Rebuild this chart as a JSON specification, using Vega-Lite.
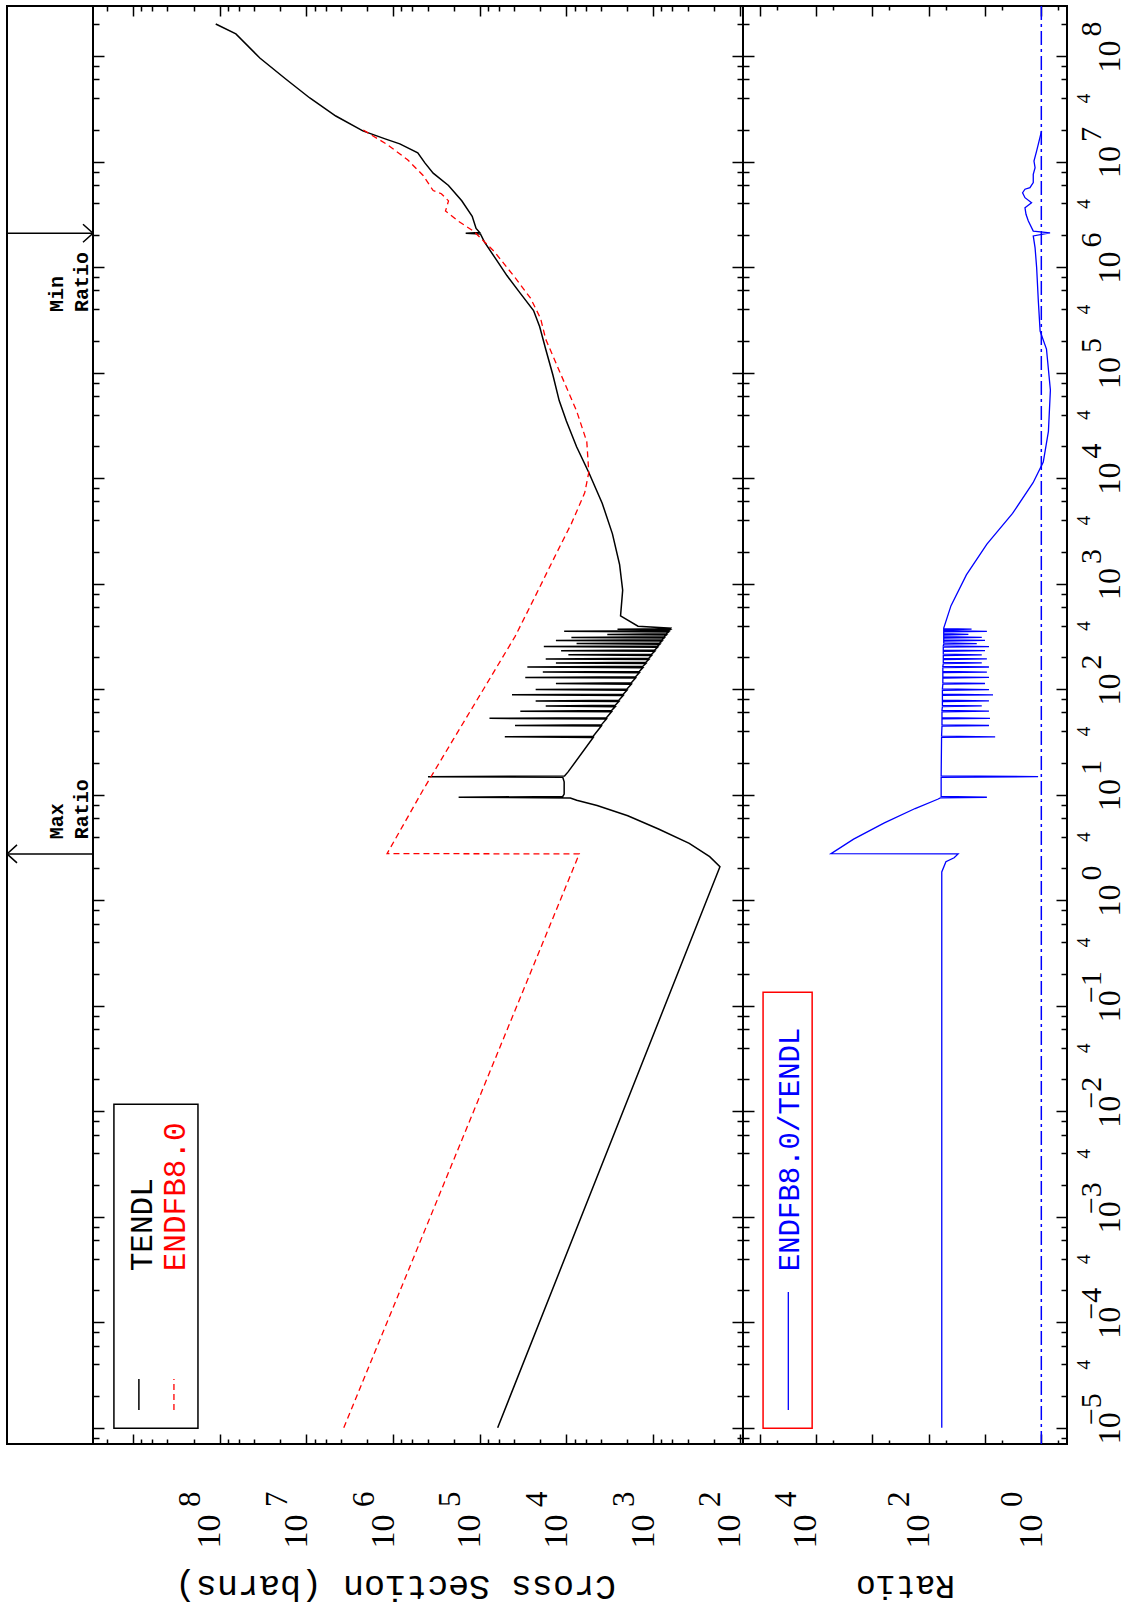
{
"$schema": "https://vega.github.io/schema/vega-lite/v6.json",
"padding": {"left": 3, "top": 4, "right": 0, "bottom": 0},
"spacing": 0,
"bounds": "flush",
"config": {"view": {"stroke": "#000", "strokeWidth": 2}, "axis": {"grid": false, "labelColor": "#000", "titleColor": "#000"}},
"datasets": {
"tendl": [
{"E":1e-5,"xs":62000},{"E":2.07,"xs":169},{"E":2.58,"xs":222},{"E":3.45,"xs":382},{"E":4.72,"xs":865},{"E":6.31,"xs":1955},{"E":7.89,"xs":4420},{"E":8.83,"xs":7600},{"E":9.3,"xs":9000},{"E":9.44,"xs":175000},{"E":9.6,"xs":11000},{"E":10.1,"xs":10600},{"E":13.2,"xs":10600},{"E":14.6,"xs":11000},{"E":14.8,"xs":395000},{"E":15.0,"xs":10500},{"E":16.5,"xs":9500},
{"E":34.8,"xs":4900},{"E":35.3,"xs":51300},{"E":35.8,"xs":4900},
{"E":44.6,"xs":3950},{"E":45.2,"xs":39100},{"E":45.8,"xs":3950},
{"E":52.1,"xs":3450},{"E":52.8,"xs":77100},{"E":53.5,"xs":3450},
{"E":60.9,"xs":3010},{"E":61.8,"xs":34000},{"E":62.7,"xs":3010},
{"E":68.2,"xs":2730},{"E":69.2,"xs":17300},{"E":70.2,"xs":2730},
{"E":76.2,"xs":2480},{"E":77.3,"xs":22600},{"E":78.4,"xs":2480},
{"E":87.1,"xs":2210},{"E":88.3,"xs":42400},{"E":89.5,"xs":2210},
{"E":97.5,"xs":2000},{"E":98.9,"xs":22600},{"E":100.3,"xs":2000},
{"E":111.4,"xs":1780},{"E":113,"xs":13200},{"E":114.6,"xs":1780},
{"E":127.2,"xs":1590},{"E":129,"xs":29800},{"E":130.8,"xs":1590},
{"E":143,"xs":1440},{"E":145,"xs":18700},{"E":147,"xs":1440},
{"E":159.7,"xs":1310},{"E":162,"xs":28200},{"E":164.3,"xs":1310},
{"E":174.5,"xs":1210},{"E":177,"xs":13200},{"E":179.5,"xs":1210},
{"E":190.3,"xs":1120},{"E":193,"xs":17300},{"E":195.7,"xs":1120},
{"E":208,"xs":1040},{"E":211,"xs":9480},{"E":214,"xs":1040},
{"E":227.8,"xs":957},{"E":231,"xs":11500},{"E":234.2,"xs":957},
{"E":249.5,"xs":885},{"E":253,"xs":18200},{"E":256.5,"xs":885},
{"E":266.2,"xs":836},{"E":270,"xs":7620},{"E":273.8,"xs":836},
{"E":285,"xs":789},{"E":289,"xs":13200},{"E":293,"xs":789},
{"E":304.7,"xs":745},{"E":309,"xs":8750},{"E":313.3,"xs":745},
{"E":325.4,"xs":702},{"E":330,"xs":3370},{"E":334.6,"xs":702},
{"E":348,"xs":662},{"E":353,"xs":10600},{"E":358,"xs":662},
{"E":365,"xs":637},{"E":370,"xs":2570},{"E":374,"xs":630},
{"E":378,"xs":624},{"E":395,"xs":1490},{"E":494,"xs":2370},{"E":865,"xs":2240},{"E":1510,"xs":2430},{"E":2960,"xs":2940},{"E":5780,"xs":3860},{"E":11300,"xs":5510},{"E":19800,"xs":7620},{"E":34700,"xs":10000},{"E":54200,"xs":12100},{"E":94800,"xs":14300},{"E":166000,"xs":17300},{"E":271000,"xs":20300},{"E":387000,"xs":23900},{"E":566000,"xs":34100},{"E":830000,"xs":48500},{"E":1240000,"xs":67300},{"E":1730000,"xs":88300},{"E":2060000,"xs":98000},{"E":2090000,"xs":145000},{"E":2120000,"xs":100000},{"E":2320000,"xs":110000},{"E":3030000,"xs":122000},{"E":4240000,"xs":161000},{"E":5930000,"xs":229000},{"E":7760000,"xs":344000},{"E":9700000,"xs":429000},{"E":12100000,"xs":518000},{"E":14700000,"xs":835000},{"E":16300000,"xs":1210000},{"E":19500000,"xs":2230000},{"E":27000000,"xs":4570000},{"E":40000000,"xs":9120000},{"E":60500000,"xs":17300000},{"E":95700000,"xs":34400000},{"E":162000000,"xs":65000000},{"E":201000000,"xs":111000000}
],
"endf": [
{"E":1e-5,"xs":3700000},{"E":2.74,"xs":7100},{"E":2.76,"xs":1170000},{"E":11.0,"xs":452000},{"E":33.7,"xs":200000},{"E":103,"xs":88300},{"E":316,"xs":39000},{"E":773,"xs":22600},{"E":1890,"xs":13200},{"E":3700,"xs":8750},{"E":7240,"xs":6140},{"E":11300,"xs":5510},{"E":22100,"xs":5810},{"E":43300,"xs":7620},{"E":94800,"xs":11500},{"E":207000,"xs":17300},{"E":324000,"xs":19800},{"E":507000,"xs":25900},{"E":793000,"xs":39000},{"E":1390000,"xs":67300},{"E":2170000,"xs":116000},{"E":2710000,"xs":175000},{"E":3390000,"xs":248000},{"E":4240000,"xs":229000},{"E":4950000,"xs":277000},{"E":5310000,"xs":344000},{"E":7410000,"xs":452000},{"E":10400000,"xs":679000},{"E":14500000,"xs":1170000},{"E":20000000,"xs":2230000}
],
"ratio": [
{"E":1e-5,"r":58.5},{"E":1.85,"r":58.5},{"E":2.31,"r":49.4},{"E":2.52,"r":35.3},{"E":2.74,"r":30},{"E":2.76,"r":5400},{"E":3.78,"r":2150},{"E":5.4,"r":611},{"E":7.38,"r":174},{"E":9.04,"r":69.2},
{"E":9.3,"r":62},{"E":9.44,"r":9.25},{"E":9.6,"r":60},{"E":14.6,"r":60},{"E":14.8,"r":1.14},{"E":15.0,"r":60},
{"E":34.8,"r":59},{"E":35.3,"r":6.6},{"E":35.8,"r":59},
{"E":44.6,"r":58},{"E":45.2,"r":8.5},{"E":45.8,"r":58},
{"E":52.1,"r":58},{"E":52.8,"r":8.15},{"E":53.5,"r":58},
{"E":60.9,"r":58},{"E":61.8,"r":8.5},{"E":62.7,"r":58},
{"E":68.2,"r":57},{"E":69.2,"r":11.4},{"E":70.2,"r":57},
{"E":76.2,"r":57},{"E":77.3,"r":8.5},{"E":78.4,"r":57},
{"E":87.1,"r":57},{"E":88.3,"r":7.2},{"E":89.5,"r":57},
{"E":97.5,"r":57},{"E":98.9,"r":8.5},{"E":100.3,"r":57},
{"E":111.4,"r":56},{"E":113,"r":10},{"E":114.6,"r":56},
{"E":127.2,"r":56},{"E":129,"r":8.5},{"E":130.8,"r":56},
{"E":143,"r":56},{"E":145,"r":9.25},{"E":147,"r":56},
{"E":159.7,"r":56},{"E":162,"r":8.5},{"E":164.3,"r":56},
{"E":174.5,"r":55},{"E":177,"r":11.4},{"E":179.5,"r":55},
{"E":190.3,"r":55},{"E":193,"r":9.25},{"E":195.7,"r":55},
{"E":208,"r":55},{"E":211,"r":11.4},{"E":214,"r":55},
{"E":227.8,"r":55},{"E":231,"r":10},{"E":234.2,"r":55},
{"E":249.5,"r":55},{"E":253,"r":8.5},{"E":256.5,"r":55},
{"E":266.2,"r":54},{"E":270,"r":14},{"E":273.8,"r":54},
{"E":285,"r":54},{"E":289,"r":10},{"E":293,"r":54},
{"E":304.7,"r":54},{"E":309,"r":11.4},{"E":313.3,"r":54},
{"E":325.4,"r":54},{"E":330,"r":19.7},{"E":334.6,"r":54},
{"E":348,"r":54},{"E":353,"r":9.25},{"E":358,"r":54},
{"E":365,"r":54},{"E":370,"r":17.3},{"E":374,"r":54},
{"E":378,"r":54},{"E":618,"r":40.1},{"E":1210,"r":21.4},{"E":2370,"r":9.25},{"E":4620,"r":3.24},{"E":9040,"r":1.4},{"E":14200,"r":0.923},{"E":27700,"r":0.748},{"E":68200,"r":0.69},{"E":167000,"r":0.81},{"E":247000,"r":1.05},{"E":476000,"r":1.13},{"E":986000,"r":1.21},{"E":1520000,"r":1.29},{"E":1970000,"r":1.39},{"E":2110000,"r":0.7},{"E":2190000,"r":1.39},{"E":2730000,"r":1.7},{"E":3160000,"r":1.87},{"E":3650000,"r":1.95},{"E":4070000,"r":1.49},{"E":4540000,"r":1.95},{"E":5060000,"r":2.15},{"E":5460000,"r":1.95},{"E":5650000,"r":1.59},{"E":6300000,"r":1.39},{"E":7570000,"r":1.39},{"E":8730000,"r":1.29},{"E":10100000,"r":1.35},{"E":12600000,"r":1.21},{"E":14600000,"r":1.13},{"E":19500000,"r":0.99}
]
},
"hconcat": [
{
"width": 86, "height": 1438,
"data": {"values": [{"label": "Max", "E": 2.74, "tE": 3.78, "lines": ["Max", "Ratio"]}, {"label": "Min", "E": 2090000, "tE": 374000, "lines": ["Min", "Ratio"]}]},
"layer": [
{"mark": {"type": "rule", "stroke": "#000", "strokeWidth": 1.5},
 "encoding": {"x": {"datum": 0, "type": "quantitative", "scale": {"domain": [0, 1]}, "axis": null}, "x2": {"datum": 1}, "y": {"field": "E", "type": "quantitative", "scale": {"type": "log", "domain": [7.007e-6, 2.977e8], "nice": false}, "axis": null}}},
{"transform": [{"filter": "datum.label == 'Max'"}],
 "mark": {"type": "point", "filled": false, "shape": "M2,-1.8L0,0L2,1.8", "size": 100, "stroke": "#000", "strokeWidth": 1.5, "opacity": 1},
 "encoding": {"x": {"datum": 0, "type": "quantitative", "scale": {"domain": [0, 1]}, "axis": null}, "y": {"field": "E", "type": "quantitative", "scale": {"type": "log", "domain": [7.007e-6, 2.977e8], "nice": false}, "axis": null}}},
{"transform": [{"filter": "datum.label == 'Min'"}],
 "mark": {"type": "point", "filled": false, "shape": "M-2,-1.8L0,0L-2,1.8", "size": 100, "stroke": "#000", "strokeWidth": 1.5, "opacity": 1},
 "encoding": {"x": {"datum": 1, "type": "quantitative", "scale": {"domain": [0, 1]}, "axis": null}, "y": {"field": "E", "type": "quantitative", "scale": {"type": "log", "domain": [7.007e-6, 2.977e8], "nice": false}, "axis": null}}},
{"mark": {"type": "text", "angle": 270, "align": "left", "baseline": "alphabetic", "font": "Liberation Mono", "fontSize": 20, "fontWeight": "bold", "lineHeight": 25, "color": "#000"},
 "encoding": {"x": {"datum": 0.65, "type": "quantitative", "scale": {"domain": [0, 1]}, "axis": null}, "y": {"field": "tE", "type": "quantitative", "scale": {"type": "log", "domain": [7.007e-6, 2.977e8], "nice": false}, "axis": null}, "text": {"field": "lines"}}}
]
},
{
"width": 650, "height": 1438,
"resolve": {"axis": {"x": "independent", "y": "independent"}},
"layer": [
{"data": {"name": "tendl"},
 "mark": {"type": "line", "color": "#000", "strokeWidth": 1.5},
 "encoding": {
  "x": {"field": "xs", "type": "quantitative", "scale": {"type": "log", "domain": [91.6, 2.894e9], "reverse": true, "nice": false},
   "axis": {"orient": "bottom", "values": [100,200,400,600,800,1000,2000,4000,6000,8000,10000,20000,40000,60000,80000,100000,200000,400000,600000,800000,1000000,2000000,4000000,6000000,8000000,10000000,20000000,40000000,60000000,80000000,100000000,200000000,400000000,600000000,800000000,1000000000,2000000000], "labels": false, "domain": false, "ticks": true, "tickColor": "#000", "tickWidth": 1.5, "tickSize": {"condition": {"test": "abs(log(datum.value)/LN10 - round(log(datum.value)/LN10)) < 0.01", "value": -10}, "value": -5}, "title": null}},
  "y": {"field": "E", "type": "quantitative", "scale": {"type": "log", "domain": [7.007e-6, 2.977e8], "nice": false},
   "axis": {"orient": "left", "values": [8e-6,1e-5,2e-5,4e-5,6e-5,8e-5,1e-4,2e-4,4e-4,6e-4,8e-4,0.001,0.002,0.004,0.006,0.008,0.01,0.02,0.04,0.06,0.08,0.1,0.2,0.4,0.6,0.8,1,2,4,6,8,10,20,40,60,80,100,200,400,600,800,1000,2000,4000,6000,8000,10000,20000,40000,60000,80000,100000,200000,400000,600000,800000,1000000,2000000,4000000,6000000,8000000,10000000,20000000,40000000,60000000,80000000,100000000,200000000], "labels": false, "domain": false, "ticks": true, "tickColor": "#000", "tickWidth": 1.5, "tickSize": {"condition": {"test": "abs(log(datum.value)/LN10 - round(log(datum.value)/LN10)) < 0.01", "value": -11}, "value": -6}, "title": null}},
  "order": {"field": "E", "type": "quantitative"}
 }},
{"data": {"name": "endf"},
 "mark": {"type": "line", "color": "#ff0000", "strokeWidth": 1.3, "strokeDash": [6, 4]},
 "encoding": {
  "x": {"field": "xs", "type": "quantitative", "scale": {"type": "log", "domain": [91.6, 2.894e9], "reverse": true, "nice": false},
   "axis": {"orient": "top", "values": [100,200,400,600,800,1000,2000,4000,6000,8000,10000,20000,40000,60000,80000,100000,200000,400000,600000,800000,1000000,2000000,4000000,6000000,8000000,10000000,20000000,40000000,60000000,80000000,100000000,200000000,400000000,600000000,800000000,1000000000,2000000000], "labels": false, "domain": false, "ticks": true, "tickColor": "#000", "tickWidth": 1.5, "tickSize": {"condition": {"test": "abs(log(datum.value)/LN10 - round(log(datum.value)/LN10)) < 0.01", "value": -10}, "value": -5}, "title": null}},
  "y": {"field": "E", "type": "quantitative", "scale": {"type": "log", "domain": [7.007e-6, 2.977e8], "nice": false},
   "axis": {"orient": "right", "values": [8e-6,1e-5,2e-5,4e-5,6e-5,8e-5,1e-4,2e-4,4e-4,6e-4,8e-4,0.001,0.002,0.004,0.006,0.008,0.01,0.02,0.04,0.06,0.08,0.1,0.2,0.4,0.6,0.8,1,2,4,6,8,10,20,40,60,80,100,200,400,600,800,1000,2000,4000,6000,8000,10000,20000,40000,60000,80000,100000,200000,400000,600000,800000,1000000,2000000,4000000,6000000,8000000,10000000,20000000,40000000,60000000,80000000,100000000,200000000], "labels": false, "domain": false, "ticks": true, "tickColor": "#000", "tickWidth": 1.5, "tickSize": {"condition": {"test": "abs(log(datum.value)/LN10 - round(log(datum.value)/LN10)) < 0.01", "value": -11}, "value": -6}, "title": null}},
  "order": {"field": "E", "type": "quantitative"}
 }},
{"data": {"values": [{"x1": 1.66e9, "x2": 1.78e8, "E1": 9.9e-6, "E2": 0.0116}]},
 "mark": {"type": "rect", "fillOpacity": 0, "stroke": "#000", "strokeWidth": 1.5},
 "encoding": {
  "x": {"field": "x1", "type": "quantitative", "scale": {"type": "log", "domain": [91.6, 2.894e9], "reverse": true, "nice": false},
   "axis": {"orient": "bottom", "values": [100,1000,10000,100000,1000000,10000000,100000000], "ticks": false, "domain": false, "labelExpr": "'10'", "labelAngle": 270, "labelAlign": "right", "labelBaseline": "alphabetic", "labelPadding": 70, "labelFont": "Liberation Serif", "labelFontSize": 34, "labelOverlap": false, "labelFlush": false, "title": "Cross Section (barns)", "titleX": 302, "titleAngle": 180, "titleFont": "Liberation Mono", "titleFontSize": 35, "titleFontWeight": "normal", "titleBaseline": "bottom", "titlePadding": 20}},
  "x2": {"field": "x2"},
  "y": {"field": "E1", "type": "quantitative", "scale": {"type": "log", "domain": [7.007e-6, 2.977e8], "nice": false}, "axis": null},
  "y2": {"field": "E2"}
 }},
{"data": {"values": [{"series": "TENDL", "xs": 6.0e8, "E": 3.04e-4}, {"series": "ENDFB8.0", "xs": 2.5e8, "E": 3.04e-4}]},
 "mark": {"type": "text", "angle": 270, "align": "left", "baseline": "alphabetic", "font": "Liberation Mono", "fontSize": 31},
 "encoding": {
  "x": {"field": "xs", "type": "quantitative", "scale": {"type": "log", "domain": [91.6, 2.894e9], "reverse": true, "nice": false},
   "axis": {"orient": "bottom", "values": [100,1000,10000,100000,1000000,10000000,100000000], "ticks": false, "domain": false, "labelExpr": "replace(format(log(datum.value)/LN10, '.0f'), '-', '\u2212')", "labelAngle": 270, "labelAlign": "right", "labelBaseline": "alphabetic", "labelPadding": 47, "labelOffset": -20, "labelFont": "Liberation Serif", "labelFontSize": 31, "labelOverlap": false, "labelFlush": false, "title": null}},
  "y": {"field": "E", "type": "quantitative", "scale": {"type": "log", "domain": [7.007e-6, 2.977e8], "nice": false}, "axis": null},
  "text": {"field": "series"},
  "color": {"field": "series", "type": "nominal", "scale": {"domain": ["TENDL", "ENDFB8.0"], "range": ["#000000", "#ff0000"]}, "legend": null}
 }},
{"data": {"values": [{"xs": 8.55e8, "E1": 1.47e-5, "E2": 2.9e-5}]},
 "mark": {"type": "rule", "color": "#000", "strokeWidth": 1.5},
 "encoding": {
  "x": {"field": "xs", "type": "quantitative", "scale": {"type": "log", "domain": [91.6, 2.894e9], "reverse": true, "nice": false}, "axis": null},
  "y": {"field": "E1", "type": "quantitative", "scale": {"type": "log", "domain": [7.007e-6, 2.977e8], "nice": false}, "axis": null},
  "y2": {"field": "E2"}
 }},
{"data": {"values": [{"xs": 3.37e8, "E1": 1.47e-5, "E2": 2.9e-5}]},
 "mark": {"type": "rule", "color": "#ff0000", "strokeWidth": 1.3, "strokeDash": [6, 4]},
 "encoding": {
  "x": {"field": "xs", "type": "quantitative", "scale": {"type": "log", "domain": [91.6, 2.894e9], "reverse": true, "nice": false}, "axis": null},
  "y": {"field": "E1", "type": "quantitative", "scale": {"type": "log", "domain": [7.007e-6, 2.977e8], "nice": false}, "axis": null},
  "y2": {"field": "E2"}
 }}
]
},
{
"width": 324, "height": 1438,
"resolve": {"axis": {"x": "independent", "y": "independent"}},
"layer": [
{"data": {"name": "ratio"},
 "mark": {"type": "line", "color": "#0000ff", "strokeWidth": 1.3},
 "encoding": {
  "x": {"field": "r", "type": "quantitative", "scale": {"type": "log", "domain": [0.35, 197600], "reverse": true, "nice": false},
   "axis": {"orient": "bottom", "values": [0.5,1,5,10,50,100,500,1000,5000,10000,50000,100000], "labels": false, "domain": false, "ticks": true, "tickColor": "#000", "tickWidth": 1.5, "tickSize": {"condition": {"test": "abs(log(datum.value)/LN10 - round(log(datum.value)/LN10)) < 0.01", "value": -10}, "value": -4}, "title": null}},
  "y": {"field": "E", "type": "quantitative", "scale": {"type": "log", "domain": [7.007e-6, 2.977e8], "nice": false},
   "axis": {"orient": "left", "values": [8e-6,1e-5,2e-5,4e-5,6e-5,8e-5,1e-4,2e-4,4e-4,6e-4,8e-4,0.001,0.002,0.004,0.006,0.008,0.01,0.02,0.04,0.06,0.08,0.1,0.2,0.4,0.6,0.8,1,2,4,6,8,10,20,40,60,80,100,200,400,600,800,1000,2000,4000,6000,8000,10000,20000,40000,60000,80000,100000,200000,400000,600000,800000,1000000,2000000,4000000,6000000,8000000,10000000,20000000,40000000,60000000,80000000,100000000,200000000], "labels": false, "domain": false, "ticks": true, "tickColor": "#000", "tickWidth": 1.5, "tickSize": {"condition": {"test": "abs(log(datum.value)/LN10 - round(log(datum.value)/LN10)) < 0.01", "value": -11}, "value": -6}, "title": null}},
  "order": {"field": "E", "type": "quantitative"}
 }},
{"data": {"values": [{"one": 1}]},
 "mark": {"type": "rule", "color": "#0000ff", "strokeWidth": 1.5, "strokeDash": [14, 4, 3, 4]},
 "encoding": {
  "x": {"field": "one", "type": "quantitative", "scale": {"type": "log", "domain": [0.35, 197600], "reverse": true, "nice": false},
   "axis": {"orient": "top", "values": [0.5,1,5,10,50,100,500,1000,5000,10000,50000,100000], "labels": false, "domain": false, "ticks": true, "tickColor": "#000", "tickWidth": 1.5, "tickSize": {"condition": {"test": "abs(log(datum.value)/LN10 - round(log(datum.value)/LN10)) < 0.01", "value": -10}, "value": -4}, "title": null}}
 }},
{"data": {"values": [{"r1": 87000, "r2": 11700, "E1": 9.9e-6, "E2": 0.134}]},
 "mark": {"type": "rect", "fillOpacity": 0, "stroke": "#ff0000", "strokeWidth": 1.5},
 "encoding": {
  "x": {"field": "r1", "type": "quantitative", "scale": {"type": "log", "domain": [0.35, 197600], "reverse": true, "nice": false},
   "axis": {"orient": "bottom", "values": [1, 100, 10000], "ticks": false, "domain": false, "labelExpr": "'10'", "labelAngle": 270, "labelAlign": "right", "labelBaseline": "alphabetic", "labelPadding": 70, "labelFont": "Liberation Serif", "labelFontSize": 34, "labelOverlap": false, "labelFlush": false, "title": "Ratio", "titleAngle": 180, "titleFont": "Liberation Mono", "titleFontSize": 33, "titleFontWeight": "normal", "titleBaseline": "bottom", "titlePadding": 20}},
  "x2": {"field": "r2"},
  "y": {"field": "E1", "type": "quantitative", "scale": {"type": "log", "domain": [7.007e-6, 2.977e8], "nice": false},
   "axis": {"orient": "right", "values": [8e-6,1e-5,2e-5,4e-5,6e-5,8e-5,1e-4,2e-4,4e-4,6e-4,8e-4,0.001,0.002,0.004,0.006,0.008,0.01,0.02,0.04,0.06,0.08,0.1,0.2,0.4,0.6,0.8,1,2,4,6,8,10,20,40,60,80,100,200,400,600,800,1000,2000,4000,6000,8000,10000,20000,40000,60000,80000,100000,200000,400000,600000,800000,1000000,2000000,4000000,6000000,8000000,10000000,20000000,40000000,60000000,80000000,100000000,200000000], "labels": false, "domain": false, "ticks": true, "tickColor": "#000", "tickWidth": 1.5, "tickSize": {"condition": {"test": "abs(log(datum.value)/LN10 - round(log(datum.value)/LN10)) < 0.01", "value": -11}, "value": -6}, "title": null}},
  "y2": {"field": "E2"}
 }},
{"data": {"values": [{"label": "ENDFB8.0/TENDL", "r": 20000, "E": 3.04e-4}]},
 "mark": {"type": "text", "angle": 270, "align": "left", "baseline": "alphabetic", "font": "Liberation Mono", "fontSize": 29, "color": "#0000ff"},
 "encoding": {
  "x": {"field": "r", "type": "quantitative", "scale": {"type": "log", "domain": [0.35, 197600], "reverse": true, "nice": false},
   "axis": {"orient": "bottom", "values": [1, 100, 10000], "ticks": false, "domain": false, "labelExpr": "replace(format(log(datum.value)/LN10, '.0f'), '-', '\u2212')", "labelAngle": 270, "labelAlign": "right", "labelBaseline": "alphabetic", "labelPadding": 47, "labelOffset": -20, "labelFont": "Liberation Serif", "labelFontSize": 31, "labelOverlap": false, "labelFlush": false, "title": null}},
  "y": {"field": "E", "type": "quantitative", "scale": {"type": "log", "domain": [7.007e-6, 2.977e8], "nice": false},
   "axis": {"orient": "right", "values": [1e-5,1e-4,0.001,0.01,0.1,1,10,100,1000,10000,100000,1000000,10000000,100000000], "ticks": false, "domain": false, "labelExpr": "'10'", "labelAngle": 270, "labelAlign": "center", "labelBaseline": "alphabetic", "labelPadding": 52, "labelFont": "Liberation Serif", "labelFontSize": 32, "labelOverlap": false, "labelFlush": false, "title": null}},
  "text": {"field": "label"}
 }},
{"data": {"values": [{"r": 31000, "E1": 1.47e-5, "E2": 1.93e-4}]},
 "mark": {"type": "rule", "color": "#0000ff", "strokeWidth": 1.3},
 "encoding": {
  "x": {"field": "r", "type": "quantitative", "scale": {"type": "log", "domain": [0.35, 197600], "reverse": true, "nice": false}, "axis": null},
  "y": {"field": "E1", "type": "quantitative", "scale": {"type": "log", "domain": [7.007e-6, 2.977e8], "nice": false},
   "axis": {"orient": "right", "values": [1e-5,4e-5,1e-4,4e-4,0.001,0.004,0.01,0.04,0.1,0.4,1,4,10,40,100,400,1000,4000,10000,40000,100000,400000,1000000,4000000,10000000,40000000,100000000], "ticks": false, "domain": false,
    "labelExpr": "abs(log(datum.value)/LN10 - round(log(datum.value)/LN10)) < 0.01 ? replace(format(log(datum.value)/LN10, '.0f'), '-', '\u2212') : '4'",
    "labelAngle": 270, "labelBaseline": "alphabetic",
    "labelAlign": {"condition": {"test": "abs(log(datum.value)/LN10 - round(log(datum.value)/LN10)) < 0.01", "value": "right"}, "value": "center"},
    "labelOffset": {"condition": {"test": "abs(log(datum.value)/LN10 - round(log(datum.value)/LN10)) < 0.01", "value": -35}, "value": 0},
    "labelPadding": {"condition": {"test": "abs(log(datum.value)/LN10 - round(log(datum.value)/LN10)) < 0.01", "value": 33}, "value": 22},
    "labelFontSize": {"condition": {"test": "abs(log(datum.value)/LN10 - round(log(datum.value)/LN10)) < 0.01", "value": 30}, "value": 19},
    "labelFont": "Liberation Serif", "labelOverlap": false, "labelFlush": false, "title": null}},
  "y2": {"field": "E2"}
 }}
]
}
]
}
